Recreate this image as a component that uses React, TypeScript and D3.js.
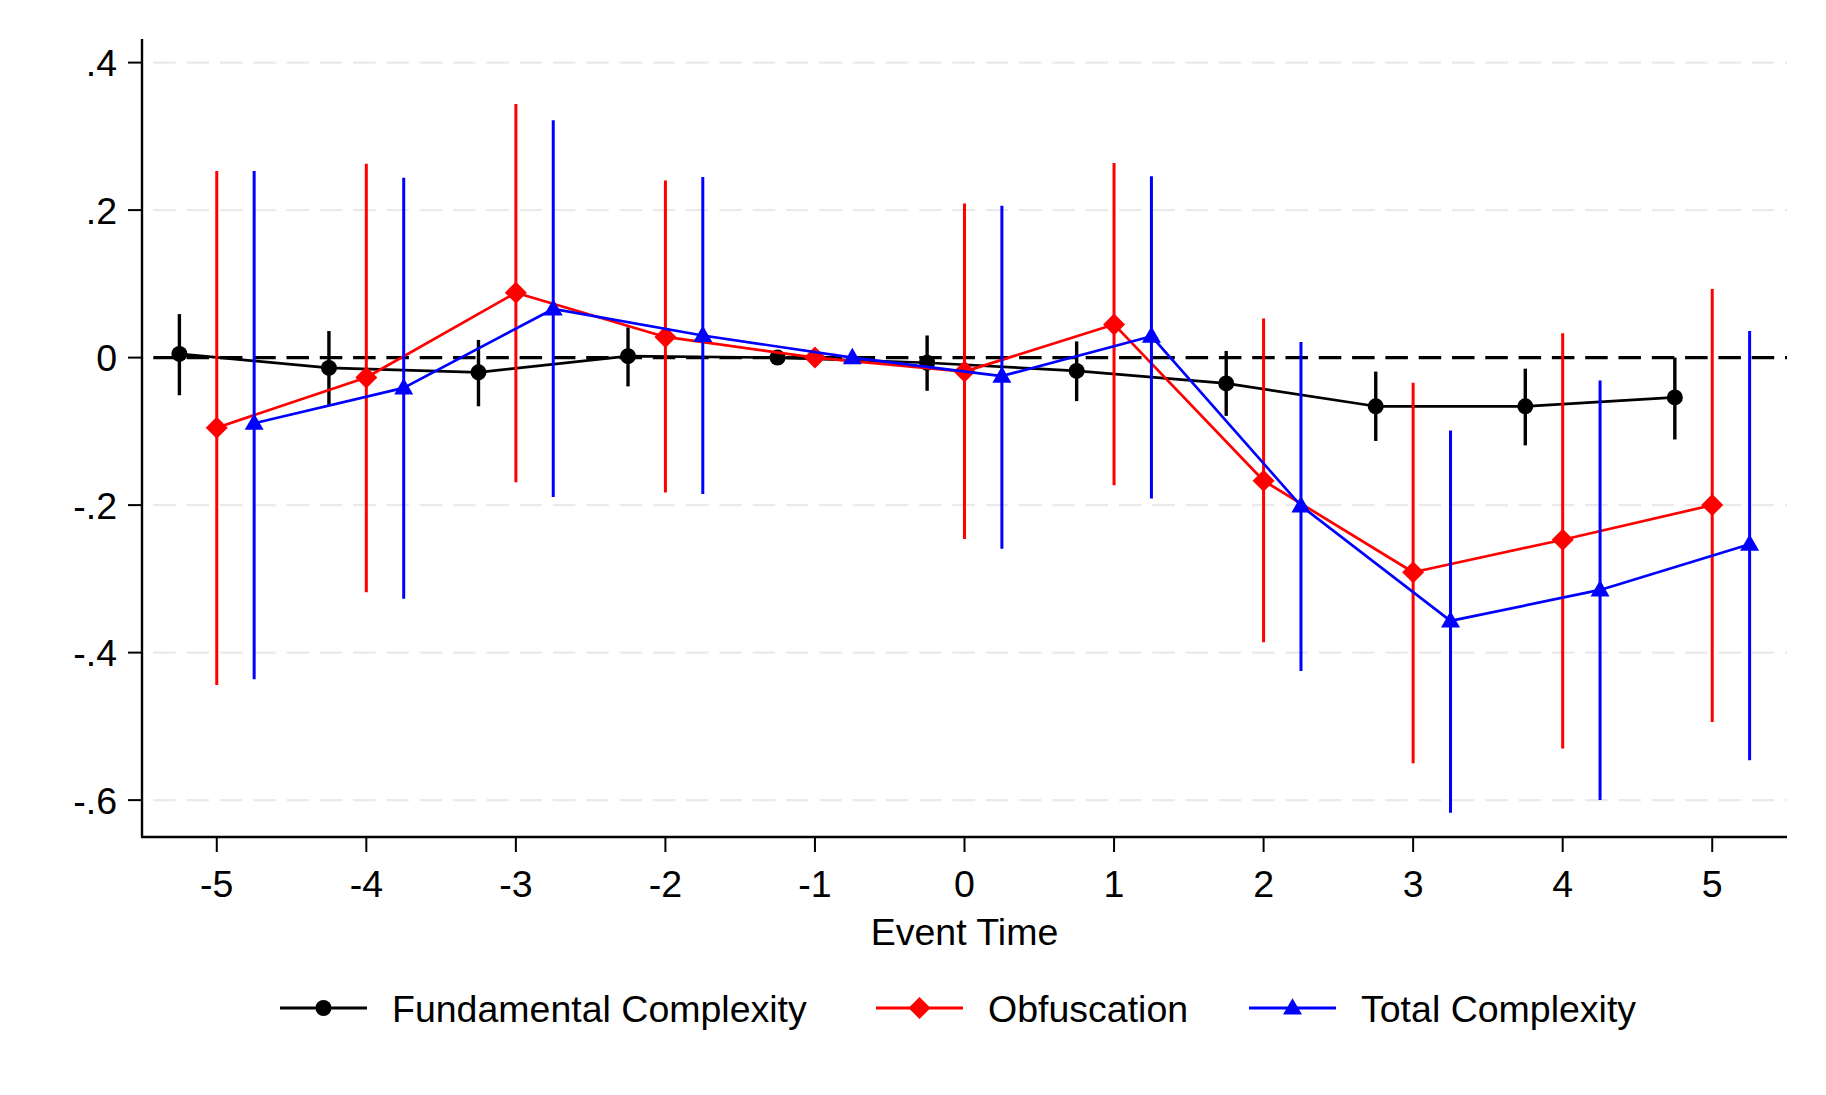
import * as d3 from 'd3';
import { useEffect, useRef } from 'react';

// event time periods (-1 is the omitted reference period)
const eventTime = [-5, -4, -3, -2, -1, 0, 1, 2, 3, 4, 5];

const fundamentalCoef = [0.005, -0.014, -0.02, 0.002, 0, -0.007, -0.018, -0.035, -0.066, -0.066, -0.054];
const fundamentalLo = [-0.051, -0.065, -0.066, -0.039, null, -0.045, -0.059, -0.079, -0.113, -0.119, -0.111];
const fundamentalHi = [0.059, 0.036, 0.024, 0.041, null, 0.03, 0.022, 0.009, -0.019, -0.015, 0.0];

const obfuscationCoef = [-0.095, -0.027, 0.088, 0.028, 0, -0.019, 0.045, -0.167, -0.291, -0.247, -0.2];
const obfuscationLo = [-0.444, -0.318, -0.169, -0.183, null, -0.246, -0.173, -0.386, -0.55, -0.53, -0.494];
const obfuscationHi = [0.253, 0.263, 0.344, 0.24, null, 0.209, 0.264, 0.053, -0.034, 0.033, 0.093];

const totalCoef = [-0.089, -0.041, 0.066, 0.03, 0, -0.025, 0.029, -0.201, -0.357, -0.315, -0.253];
const totalLo = [-0.436, -0.327, -0.189, -0.185, null, -0.259, -0.191, -0.425, -0.617, -0.6, -0.546];
const totalHi = [0.253, 0.244, 0.322, 0.245, null, 0.206, 0.246, 0.021, -0.099, -0.031, 0.036];

const yTicks = [-0.6, -0.4, -0.2, 0, 0.2, 0.4];
const yTickLabels = ['-.6', '-.4', '-.2', '0', '.2', '.4'];
const xTicks = [-5, -4, -3, -2, -1, 0, 1, 2, 3, 4, 5];

const seriesNames = ['Fundamental Complexity', 'Obfuscation', 'Total Complexity'];

const FONT = '"Liberation Sans", Arial, Helvetica, sans-serif';

export default function App() {
    const ref = useRef<any>();

    useEffect(() => {
        const width = 1826;
        const height = 1095;
        const dims: any = { left: 142, right: 1787, top: 39, bottom: 837 };

        const svg = d3.select<any, any>(ref.current);
        svg.selectAll('*').remove();
        svg.attr('width', width).attr('height', height);

        svg.append('rect').attr('width', width).attr('height', height).attr('fill', 'white');

        const x = d3.scaleLinear().domain([-5.5, 5.5]).range([dims.left, dims.right]);
        const y = d3.scaleLinear().domain([-0.65, 0.432]).range([dims.bottom, dims.top]);

        // gridlines
        svg.append('g')
            .selectAll('line')
            .data(yTicks)
            .join('line')
            .attr('x1', dims.left)
            .attr('x2', dims.right)
            .attr('y1', (d) => y(d))
            .attr('y2', (d) => y(d))
            .attr('stroke', '#eaeaea')
            .attr('stroke-width', 2.2)
            .attr('stroke-dasharray', '22.5 10.8')
            .attr('stroke-dashoffset', 22);

        // zero reference line
        svg.append('line')
            .attr('x1', dims.left)
            .attr('x2', dims.right)
            .attr('y1', y(0))
            .attr('y2', y(0))
            .attr('stroke', 'black')
            .attr('stroke-width', 3.4)
            .attr('stroke-dasharray', '22.5 10.8')
            .attr('stroke-dashoffset', 22);

        const series = [
            { coef: fundamentalCoef, lo: fundamentalLo, hi: fundamentalHi, shift: -0.25, color: 'black', ciWidth: 3.4, symbol: 'circle' },
            { coef: obfuscationCoef, lo: obfuscationLo, hi: obfuscationHi, shift: 0, color: '#ff0000', ciWidth: 3, symbol: 'diamond' },
            { coef: totalCoef, lo: totalLo, hi: totalHi, shift: 0.25, color: '#0000ff', ciWidth: 3, symbol: 'triangle' },
        ];

        const drawMarker = (g: any, symbol: string, cx: number, cy: number, color: string) => {
            if (symbol === 'circle') {
                g.append('circle').attr('cx', cx).attr('cy', cy).attr('r', 8).attr('fill', color);
            } else if (symbol === 'diamond') {
                const s = 11;
                g.append('path')
                    .attr('d', `M${cx},${cy - s}L${cx + s},${cy}L${cx},${cy + s}L${cx - s},${cy}Z`)
                    .attr('fill', color);
            } else {
                const side = 19;
                const h = side * Math.sqrt(3) / 2;
                g.append('path')
                    .attr('d', `M${cx},${cy - h * 0.6}L${cx + side / 2},${cy + h * 0.4}L${cx - side / 2},${cy + h * 0.4}Z`)
                    .attr('fill', color);
            }
        };

        series.forEach((s) => {
            const g = svg.append('g');
            const pts = eventTime.map((t, i) => ({ t: t + s.shift, c: s.coef[i], lo: s.lo[i], hi: s.hi[i] }));

            // confidence intervals
            g.selectAll('.ci')
                .data(pts.filter((d) => d.lo !== null))
                .join('line')
                .attr('class', 'ci')
                .attr('x1', (d) => x(d.t))
                .attr('x2', (d) => x(d.t))
                .attr('y1', (d: any) => y(d.lo))
                .attr('y2', (d: any) => y(d.hi))
                .attr('stroke', s.color)
                .attr('stroke-width', s.ciWidth);

            const line = d3.line<any>()
                .x((d) => x(d.t))
                .y((d) => y(d.c));

            g.append('path')
                .datum(pts)
                .attr('d', line)
                .attr('fill', 'none')
                .attr('stroke', s.color)
                .attr('stroke-width', 2.7)
                .attr('stroke-linejoin', 'round');

            pts.forEach((d) => drawMarker(g, s.symbol, x(d.t), y(d.c), s.color));
        });

        // y axis
        const yAxis = svg.append('g');
        yAxis.append('line')
            .attr('x1', dims.left).attr('x2', dims.left)
            .attr('y1', dims.top).attr('y2', dims.bottom)
            .attr('stroke', 'black').attr('stroke-width', 2.4);
        yTicks.forEach((t, i) => {
            yAxis.append('line')
                .attr('x1', dims.left - 14).attr('x2', dims.left)
                .attr('y1', y(t)).attr('y2', y(t))
                .attr('stroke', 'black').attr('stroke-width', 2);
            yAxis.append('text')
                .attr('x', dims.left - 25)
                .attr('y', y(t))
                .attr('dy', '0.36em')
                .attr('text-anchor', 'end')
                .attr('font-family', FONT)
                .attr('font-size', 37.5)
                .text(yTickLabels[i]);
        });

        // x axis
        const xAxis = svg.append('g');
        xAxis.append('line')
            .attr('x1', dims.left - 1).attr('x2', dims.right)
            .attr('y1', dims.bottom).attr('y2', dims.bottom)
            .attr('stroke', 'black').attr('stroke-width', 2.4);
        xTicks.forEach((t) => {
            xAxis.append('line')
                .attr('x1', x(t)).attr('x2', x(t))
                .attr('y1', dims.bottom).attr('y2', dims.bottom + 15)
                .attr('stroke', 'black').attr('stroke-width', 2);
            xAxis.append('text')
                .attr('x', x(t))
                .attr('y', 897)
                .attr('text-anchor', 'middle')
                .attr('font-family', FONT)
                .attr('font-size', 37.5)
                .text(String(t));
        });

        svg.append('text')
            .attr('x', (dims.left + dims.right) / 2)
            .attr('y', 945)
            .attr('text-anchor', 'middle')
            .attr('font-family', FONT)
            .attr('font-size', 37.5)
            .text('Event Time');

        // legend
        const legendX = [280, 876, 1249];
        const legendY = 1008;
        series.forEach((s, i) => {
            const lg = svg.append('g');
            lg.append('line')
                .attr('x1', legendX[i]).attr('x2', legendX[i] + 87)
                .attr('y1', legendY).attr('y2', legendY)
                .attr('stroke', s.color).attr('stroke-width', 3);
            drawMarker(lg, s.symbol, legendX[i] + 43.5, legendY, s.color);
            lg.append('text')
                .attr('x', legendX[i] + 112)
                .attr('y', 1022)
                .attr('font-family', FONT)
                .attr('font-size', 37.5)
                .text(seriesNames[i]);
        });
    });

    return (
        <svg ref={ref} style={{ position: 'absolute', left: 0, top: 0 }}></svg>
    );
}
